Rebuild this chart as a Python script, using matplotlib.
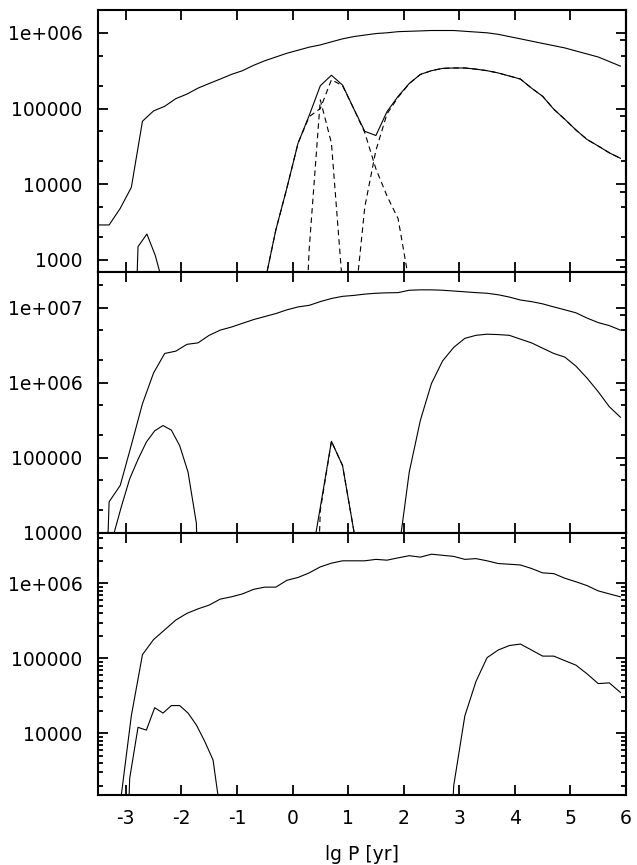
import matplotlib
matplotlib.use("Agg")
import matplotlib.pyplot as plt
from matplotlib.ticker import LogLocator, NullFormatter, NullLocator

plt.rcParams['font.family'] = ['DejaVu Sans']
plt.rcParams['axes.unicode_minus'] = False

# ---------------- data ----------------
lgP = [-3.5, -3.3, -3.1, -2.9, -2.7, -2.5, -2.3, -2.1, -1.9, -1.7, -1.5, -1.3,
       -1.1, -0.9, -0.7, -0.5, -0.3, -0.1, 0.1, 0.3, 0.5, 0.7, 0.9, 1.1,
       1.3, 1.5, 1.7, 1.9, 2.1, 2.3, 2.5, 2.7, 2.9, 3.1, 3.3, 3.5,
       3.7, 3.9, 4.1, 4.3, 4.5, 4.7, 4.9, 5.1, 5.3, 5.5, 5.7, 5.9]

# top panel
top_total = [2900, 2900, 4800, 9100, 68000, 93000, 107000, 135000, 155000, 186000, 214000, 245000,
             282000, 316000, 372000, 427000, 479000, 537000, 589000, 646000, 692000, 759000, 832000, 891000,
             933000, 977000, 1000000, 1035000, 1047000, 1059000, 1072000, 1072000, 1072000, 1047000, 1023000, 1000000,
             955000, 891000, 832000, 776000, 724000, 676000, 631000, 575000, 525000, 479000, 417000, 363000]

top_low_left_x = [-2.92, -2.78, -2.62, -2.47, -2.32]
top_low_left_y = [1, 1500, 2200, 1150, 450]

top_low_x = [-0.7, -0.5, -0.3, -0.1, 0.1, 0.3, 0.5, 0.7, 0.9, 1.1, 1.3, 1.5, 1.7, 1.9, 2.1, 2.3, 2.5,
             2.7, 2.9, 3.1, 3.3, 3.5, 3.7, 3.9, 4.1, 4.3, 4.5, 4.7, 4.9, 5.1, 5.3, 5.5, 5.7, 5.9]
top_low_y = [1, 500, 2500, 9000, 35000, 81000, 200000, 275000, 204000, 100000, 50000, 44000, 91000, 145000,
             214000, 282000, 316000, 339000, 343000, 343000, 331000, 316000, 295000, 269000, 245000, 186000,
             145000, 98000, 72000, 52000, 39000, 32000, 26000, 22000]

top_dashA_x = [0.1, 0.3, 0.5, 0.7, 0.9, 1.1]
top_dashA_y = [1, 1400, 130000, 35000, 450, 1]

top_dashB_x = [-0.7, -0.5, -0.3, -0.1, 0.1, 0.3, 0.5, 0.7, 0.9, 1.1, 1.3, 1.5, 1.7, 1.9, 2.1, 2.3]
top_dashB_y = [1, 500, 2500, 9000, 35000, 78000, 100000, 240000, 200000, 100000, 48000, 16000, 7000, 3500, 500, 1]

top_dashC_x = [0.9, 1.1, 1.3, 1.5, 1.7, 1.9, 2.1, 2.3, 2.5, 2.7, 2.9, 3.1, 3.3, 3.5, 3.7, 3.9,
               4.1, 4.3, 4.5, 4.7, 4.9, 5.1, 5.3, 5.5, 5.7, 5.9]
top_dashC_y = [1, 180, 5000, 28000, 85000, 141000, 213000, 282000, 316000, 339000, 343000, 343000, 331000,
               316000, 295000, 269000, 245000, 186000, 145000, 98000, 72000, 52000, 39000, 32000, 26000, 22000]

# middle panel
mid_total = [1, 26000, 43000, 148000, 525000, 1350000, 2450000, 2630000, 3240000, 3390000, 4270000, 5010000,
             5500000, 6170000, 6920000, 7590000, 8320000, 9330000, 10200000, 10700000, 12000000, 13200000,
             14100000, 14500000, 15100000, 15500000, 15700000, 15800000, 17000000, 17200000, 17200000,
             17000000, 16600000, 16200000, 15800000, 15500000, 14800000, 13800000, 12600000, 12000000,
             11200000, 10200000, 9330000, 8510000, 7240000, 6310000, 5750000, 5010000]

mid_left_x = [-3.23, -3.08, -2.93, -2.78, -2.63, -2.48, -2.33, -2.18, -2.03, -1.88, -1.73, -1.58]
mid_left_y = [8900, 22400, 52500, 95500, 162000, 229000, 269000, 234000, 145000, 64600, 13500, 1]

mid_spike_x = [0.3, 0.5, 0.7, 0.9, 1.1, 1.3]
mid_spike_y = [3000, 22000, 166000, 79000, 11000, 1000]
mid_dash_y = [1, 20000, 166000, 79000, 11000, 1000]

mid_right_x = [1.7, 1.9, 2.1, 2.3, 2.5, 2.7, 2.9, 3.1, 3.3, 3.5, 3.7, 3.9, 4.1, 4.3, 4.5,
               4.7, 4.9, 5.1, 5.3, 5.5, 5.7, 5.9]
mid_right_y = [1, 5000, 64600, 316000, 977000, 1950000, 2950000, 3890000, 4270000, 4420000, 4370000,
               4270000, 3800000, 3390000, 2880000, 2450000, 2190000, 1660000, 1150000, 759000, 479000, 347000]

# bottom panel
bot_total = [1, 1, 1150, 17200, 112000, 178000, 240000, 324000, 398000, 457000, 513000, 617000,
             661000, 724000, 832000, 891000, 891000, 1100000, 1200000, 1380000, 1660000, 1860000, 2000000,
             2000000, 2000000, 2090000, 2040000, 2190000, 2340000, 2240000, 2450000, 2370000, 2290000,
             2090000, 2140000, 2000000, 1840000, 1800000, 1760000, 1580000, 1380000, 1350000, 1170000,
             1050000, 933000, 794000, 724000, 661000]

bot_left_x = [-3.08, -2.93, -2.78, -2.63, -2.48, -2.33, -2.18, -2.03, -1.88, -1.73, -1.58, -1.43, -1.28]
bot_left_y = [1, 2500, 12000, 11000, 21900, 18600, 23400, 23400, 18600, 12900, 7800, 4400, 700]

bot_right_x = [2.7, 2.9, 3.1, 3.3, 3.5, 3.7, 3.9, 4.1, 4.3, 4.5, 4.7, 4.9, 5.1, 5.3, 5.5, 5.7, 5.9]
bot_right_y = [1, 2000, 17000, 49000, 102000, 129000, 148000, 155000, 129000, 107000, 107000, 93000,
               81000, 62000, 46000, 47000, 35000]

xticks = [-3, -2, -1, 0, 1, 2, 3, 4, 5, 6]

top_ylim = (700, 2.0e6)
top_yticks = [1e3, 1e4, 1e5, 1e6]
top_ylabels = ["1000", "10000", "100000", "1e+006"]
top_extra = [8e2, 8e3, 8e4, 8e5]

mid_ylim = (1e4, 3.0e7)
mid_yticks = [1e4, 1e5, 1e6, 1e7]
mid_ylabels = ["10000", "100000", "1e+006", "1e+007"]
mid_extra = [8e4, 8e5, 8e6]

bot_ylim = (1500, 4.7e6)
bot_yticks = [1e4, 1e5, 1e6]
bot_ylabels = ["10000", "100000", "1e+006"]

# ---------------- figure ----------------
W, H = 637, 865
fig = plt.figure(figsize=(W / 100, H / 100), dpi=100)
left = 98 / W
width = (626 - 98) / W


def make_ax(ytop, ybot):
    return fig.add_axes([left, 1 - ybot / H, width, (ybot - ytop) / H])


ax_top = make_ax(10, 271.7)
ax_mid = make_ax(271.7, 533)
ax_bot = make_ax(533, 795)

LW = 0.8
DASH = (0, (5, 3.5))
FS = 13.5


def style(ax, ylim, yticks, ylabels, subs, extra, show_x):
    ax.set_yscale('log')
    ax.set_xlim(-3.5, 6)
    ax.set_yticks(yticks, ylabels)
    ax.yaxis.set_minor_locator(LogLocator(base=10, subs=subs))
    ax.yaxis.set_minor_formatter(NullFormatter())
    ax.set_ylim(*ylim)
    ax.set_xticks(xticks)
    ax.xaxis.set_minor_locator(NullLocator())
    ax.tick_params(which='both', direction='in', top=True, right=True, width=1.3)
    ax.tick_params(which='major', length=7.5, labelsize=FS)
    ax.tick_params(which='minor', length=3.6)
    ax.tick_params(axis='y', which='major', pad=11)
    ax.tick_params(axis='x', which='major', pad=10, labelbottom=show_x)
    for s in ax.spines.values():
        s.set_linewidth(1.5)
    if extra:
        sec = ax.secondary_yaxis('right')
        sec.set_yticks(extra)
        sec.yaxis.set_minor_locator(NullLocator())
        sec.tick_params(which='major', direction='in', length=4.5, width=1.3, labelright=False)
        sec.spines['right'].set_linewidth(1.5)


# top
ax_top.plot(top_dashA_x, top_dashA_y, color='black', lw=LW, ls=DASH)
ax_top.plot(top_dashB_x, top_dashB_y, color='black', lw=LW, ls=DASH)
ax_top.plot(top_dashC_x, top_dashC_y, color='black', lw=LW, ls=DASH)
ax_top.plot(lgP, top_total, color='black', lw=LW)
ax_top.plot(top_low_left_x, top_low_left_y, color='black', lw=LW)
ax_top.plot(top_low_x, top_low_y, color='black', lw=LW)
style(ax_top, top_ylim, top_yticks, top_ylabels, (2, 5), top_extra, False)

# middle
ax_mid.plot(mid_spike_x, mid_dash_y, color='black', lw=LW, ls=DASH)
ax_mid.plot(lgP, mid_total, color='black', lw=LW)
ax_mid.plot(mid_left_x, mid_left_y, color='black', lw=LW)
ax_mid.plot(mid_spike_x, mid_spike_y, color='black', lw=LW)
ax_mid.plot(mid_right_x, mid_right_y, color='black', lw=LW)
style(ax_mid, mid_ylim, mid_yticks, mid_ylabels, (2, 5), mid_extra, False)

# bottom
ax_bot.plot(lgP, bot_total, color='black', lw=LW)
ax_bot.plot(bot_left_x, bot_left_y, color='black', lw=LW)
ax_bot.plot(bot_right_x, bot_right_y, color='black', lw=LW)
style(ax_bot, bot_ylim, bot_yticks, bot_ylabels, tuple(range(2, 10)), None, True)
ax_bot.set_xlabel("lg P [yr]", fontsize=FS, labelpad=12)

fig.savefig("out.png", dpi=100)
